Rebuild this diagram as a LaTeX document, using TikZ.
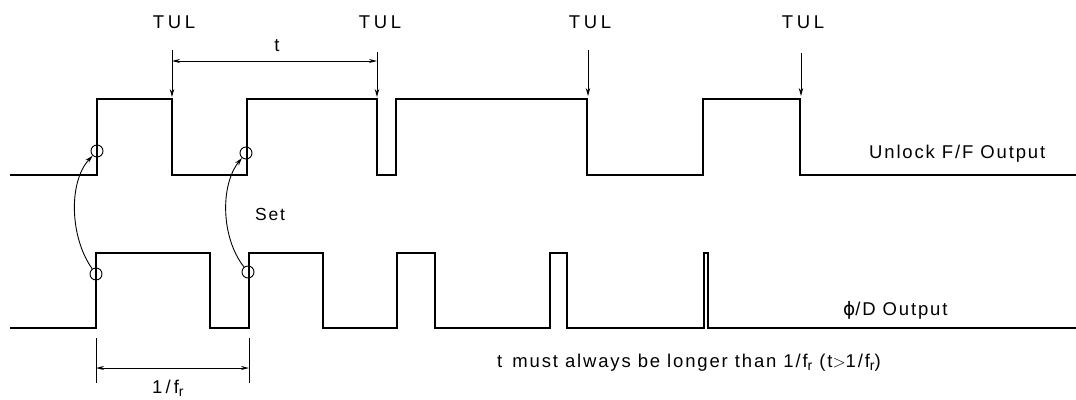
\documentclass[tikz,border=0pt]{standalone}
\usepackage{fontspec}
\setmainfont{Liberation Sans}[LetterSpace=10]
\newfontfamily\symfont{DejaVu Sans}
\usetikzlibrary{arrows.meta}
\newcommand{\subr}{\raisebox{-0.4ex}{\fontsize{14}{14}\selectfont r}}
\begin{document}
\begin{tikzpicture}[x=1pt,y=-1pt,
  wave/.style={line width=1.8pt, line join=miter, line cap=butt},
  fineline/.style={line width=0.9pt},
  tiparrow/.style={fineline,-{Stealth[length=8pt,width=4.5pt]}},
  dimline/.style={fineline,{Stealth[length=8pt,width=4pt]}-{Stealth[length=8pt,width=4pt]}},
  ring/.style={circle,draw,line width=0.9pt,minimum size=12pt,inner sep=0pt},
  lbl/.style={font=\fontsize{18.5}{20}\selectfont, inner sep=0pt},
  tullbl/.style={font=\fontsize{18.5}{20}\selectfont\addfontfeatures{LetterSpace=20}, inner sep=0pt}
]
\useasboundingbox (0,0) rectangle (1076,399);

% Unlock F/F output waveform
\draw[wave] (10,175) -- (97,175) -- (97,99) -- (172,99) -- (172,175) -- (247,175)
  -- (247,99) -- (377,99) -- (377,175) -- (396,175) -- (396,99) -- (587,99)
  -- (587,175) -- (703,175) -- (703,99) -- (800,99) -- (800,175) -- (1076,175);

% phi/D output waveform
\draw[wave] (10,328) -- (96,328) -- (96,253) -- (210,253) -- (210,328) -- (249,328)
  -- (249,253) -- (323,253) -- (323,328) -- (397,328) -- (397,253) -- (435,253)
  -- (435,328) -- (550,328) -- (550,253) -- (567,253) -- (567,328) -- (704,328)
  -- (704,253) -- (708,253) -- (708,328) -- (1076,328);

% TUL labels and arrows
\node[tullbl] (tul1) at (174,22) {TUL};
\node[tullbl] (tul2) at (380,22) {TUL};
\node[tullbl] (tul3) at (590,22) {TUL};
\node[tullbl] (tul4) at (803,22) {TUL};
\coordinate (s1) at (172,50); \coordinate (e1) at (172,97);
\coordinate (s2) at (377,52); \coordinate (e2) at (377,97);
\coordinate (s3) at (588,50); \coordinate (e3) at (588,96);
\coordinate (s4) at (801,53); \coordinate (e4) at (801,96);
\draw[tiparrow] (s1) -- (e1);
\draw[tiparrow] (s2) -- (e2);
\draw[tiparrow] (s3) -- (e3);
\draw[tiparrow] (s4) -- (e4);

% t dimension
\coordinate (ta) at (172,61);
\coordinate (tb) at (377,61);
\draw[dimline] (ta) -- (tb);
\node[lbl] (tlbl) at (277,46) {t};

% circles
\node[ring] (a1) at (97,151) {};
\node[ring] (a2) at (246,153) {};
\node[ring] (b1) at (96,274) {};
\node[ring] (b2) at (248,272) {};

% Set arrows
\draw[tiparrow] (b1) .. controls (70,238) and (68,182) .. (a1);
\draw[tiparrow] (b2) .. controls (221,238) and (220,185) .. (a2);
\node[font=\fontsize{17.5}{20}\selectfont, inner sep=0pt] (set) at (270,214) {Set};

% 1/fr dimension
\coordinate (fa) at (96,338); \coordinate (fa2) at (96,383);
\coordinate (fb) at (249,338); \coordinate (fb2) at (249,383);
\draw[fineline] (fa) -- (fa2);
\draw[fineline] (fb) -- (fb2);
\coordinate (fl) at (96,368); \coordinate (fr) at (249,368);
\draw[dimline] (fl) -- (fr);
\node[lbl, anchor=base west] (frlbl) at (152,393) {1\,/\,f\subr};

% labels
\node[lbl, anchor=base west] (unlock) at (869,158) {Unlock F/F Output};
\node[lbl, anchor=base west] (pd) at (843,315) {{\symfont ϕ}/D Output};
\node[lbl, anchor=base west] (note) at (497,367) {t\, must always be longer than 1/f\subr\ (t$>$1/f\subr)};
\end{tikzpicture}
\end{document}
